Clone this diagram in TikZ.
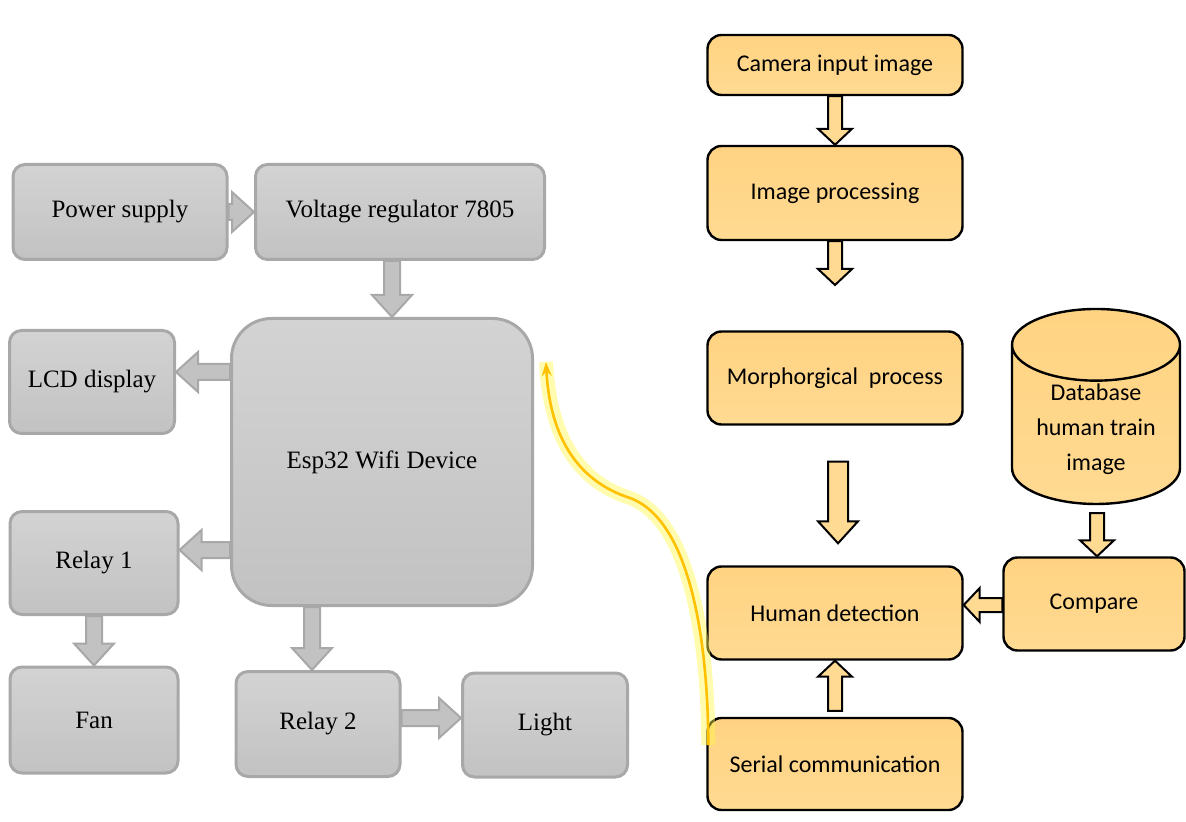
\documentclass[tikz,border=0pt]{standalone}
\usepackage{fontspec}
\setmainfont{Liberation Serif}
\newfontfamily\calibri{Carlito}
\usepackage{xcolor}
\usepackage{tikz}
\usetikzlibrary{calc}
\usetikzlibrary{shapes.geometric}
\usetikzlibrary{arrows.meta}
\definecolor{G0}{HTML}{C2C2C2}
\definecolor{G1}{HTML}{D3D3D3}
\definecolor{G2}{HTML}{A8A8A8}
\definecolor{O0}{HTML}{FFDA92}
\definecolor{O1}{HTML}{FFD382}
\definecolor{Y0}{HTML}{FFC000}
\tikzset{
  blockarrow/.style n args={3}{to path={let \p1=(\tikztostart), \p2=(\tikztotarget), \p3=($(\p2)!#3!(\p1)$) in
    ($(\p1)!#1!90:(\p2)$) -- ($(\p3)!#1!90:(\p2)$) -- ($(\p3)!#2!90:(\p2)$) -- (\p2)
    -- ($(\p3)!#2!-90:(\p2)$) -- ($(\p3)!#1!-90:(\p2)$) -- ($(\p1)!#1!-90:(\p2)$) -- cycle}},
  gbox/.style={draw=G2, line width=1.5pt, rounded corners=6pt, top color=G1, bottom color=G0,
    font=\fontsize{12.5}{14}\selectfont, align=center, inner sep=0pt},
  obox/.style={draw=black, line width=1.2pt, rounded corners=7pt, top color=O1, bottom color=O0,
    font=\calibri\fontsize{12}{14}\selectfont, align=center, inner sep=0pt},
  garrow/.style={draw=G2, fill=G0, line width=1pt, blockarrow={4pt}{10pt}{11pt}},
  oarrow/.style={draw=black, fill=O0, line width=1pt, blockarrow={3.5pt}{8.5pt}{8pt}},
  obigarrow/.style={draw=black, fill=O0, line width=1pt, blockarrow={5pt}{10pt}{11pt}},
}
\begin{document}
\begin{tikzpicture}[x=0.5pt, y=-0.5pt]
\useasboundingbox (0,0) rectangle (1186,822);
% left: controller side
\node[gbox, minimum width=107pt, minimum height=47.5pt] (pwr) at (120,212) {Power supply};
\node[gbox, minimum width=144.5pt, minimum height=47.5pt] (vreg) at (400,212) {Voltage regulator 7805};
\node[gbox, minimum width=82.5pt, minimum height=51.5pt] (lcd) at (92,382) {LCD display};
\node[gbox, rounded corners=20pt, minimum width=150.5pt, minimum height=143.5pt] (esp) at (382,462) {Esp32 Wifi Device};
\node[gbox, minimum width=84pt, minimum height=51.5pt] (rel1) at (94,563) {Relay 1};
\node[gbox, minimum width=84pt, minimum height=53pt] (fan) at (94,720) {Fan};
\node[gbox, minimum width=82pt, minimum height=52.5pt] (rel2) at (318,724) {Relay 2};
\node[gbox, minimum width=82.5pt, minimum height=52pt] (light) at (545,725) {Light};
\coordinate (va) at ($(vreg.south)+(-8,0)$);
\draw[garrow] (pwr.east) to (vreg.west);
\draw[garrow] (va) to (va |- esp.north);
\draw[garrow] (esp.west |- 0,372) to (lcd.east |- 0,372);
\draw[garrow] (esp.west |- 0,550) to (rel1.east |- 0,550);
\draw[garrow] (rel1.south) to (fan.north);
\draw[garrow] (esp.south -| 312,0) to (rel2.north -| 312,0);
\draw[garrow] (rel2.east |- 0,718) to (light.west |- 0,718);
% right: camera side
\node[obox, minimum width=127.5pt, minimum height=30pt] (cam) at (835,65) {Camera input image};
\node[obox, minimum width=127.5pt, minimum height=47pt] (imgp) at (835,193) {Image processing};
\node[obox, minimum width=127.5pt, minimum height=46.5pt] (morph) at (835,378) {Morphorgical~~process};
\node[obox, minimum width=127.5pt, minimum height=46.5pt] (human) at (835,613) {Human detection};
\node[obox, minimum width=127.5pt, minimum height=46pt] (serial) at (835,764) {Serial communication};
\node[obox, rounded corners=0pt, cylinder, shape border rotate=90, aspect=0.6,
  minimum width=84pt, minimum height=97.5pt,
  label={[font=\calibri\fontsize{12}{14}\selectfont, align=center, yshift=-2pt]center:{Database\\[3.5pt]human train\\[3.5pt]image}}]
  (db) at (1096,425) {\phantom{human train}};
\node[obox, minimum width=90.5pt, minimum height=46.5pt] (cmp) at (1094,604) {Compare};
\coordinate (imgend) at (835,285);
\draw[oarrow] (cam.south) to (imgp.north);
\draw[oarrow] (imgp.south) to (imgend);
\draw[obigarrow] ($(morph.south)+(3,36)$) to ($(human.north)+(3,-22)$);
\draw[oarrow] ($(db.south)+(1,8)$) to ($(cmp.north)+(3,0)$);
\draw[oarrow] (cmp.west |- 0,605) to (human.east |- 0,605);
\draw[oarrow] ($(serial.north)+(0,-6)$) to (human.south);
% link between the two halves
\coordinate (sfrom) at ($(serial.west)+(2,-19)$);
\coordinate (sto) at ($(esp.east)+(12,-100)$);
\draw[Y0, line width=1.3pt, -{Stealth[length=7pt, width=5pt]},
  preaction={draw=yellow!70, line width=7pt, opacity=0.45, -}]
  (sfrom) .. controls (708,640) and (690,520) .. (630,498) .. controls (580,482) and (550,440) .. (sto);
\end{tikzpicture}
\end{document}
